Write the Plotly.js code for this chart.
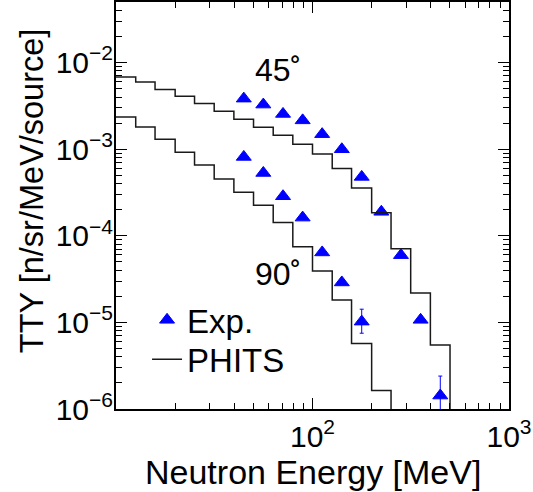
<!DOCTYPE html>
<html>
<head>
<meta charset="utf-8">
<script src="https://cdn.plot.ly/plotly-3.0.1.min.js"></script>
<style>html,body{margin:0;padding:0;background:#fff;}#chart{width:533px;height:492px;}</style>
</head>
<body>
<div id="chart"></div>
<script>
// Bin edges of the PHITS histograms [MeV]
var binEdges = [10, 12.6, 15.8, 20, 25.1, 31.6, 39.8, 50.1, 63.1, 79.4, 100, 126, 158, 200, 251, 316, 398, 501, 631];
// PHITS 45 deg (value for each bin starting at binEdges[i])
var phits45 = [6.81e-3, 5.96e-3, 4.87e-3, 4.07e-3, 3.36e-3, 2.74e-3, 2.21e-3, 1.79e-3, 1.45e-3, 1.14e-3,
               8.81e-4, 5.97e-4, 3.57e-4, 1.84e-4, 7.06e-5, 2.19e-5, 5.47e-6, 3e-7, 3e-7];
// PHITS 90 deg
var phits90 = [2.35e-3, 1.80e-3, 1.30e-3, 9.21e-4, 6.57e-4, 4.53e-4, 3.18e-4, 2.25e-4, 1.42e-4, 7.45e-5,
               3.91e-5, 1.81e-5, 5.72e-6, 1.63e-6, 3e-7, 3e-7, 3e-7, 3e-7, 3e-7];
// Experimental energies [MeV]
var expE = [44.7, 56.2, 70.8, 89.1, 112, 141, 178, 224, 282, 355, 447];
// Experimental 45 deg
var exp45 = [3.83e-3, 3.27e-3, 2.55e-3, 2.15e-3, 1.49e-3, 9.97e-4, 4.78e-4, 1.89e-4, 5.97e-5, 1.07e-5, 1.43e-6];
var exp45ErrPlus = [0, 0, 0, 0, 0, 0, 0, 0, 0, 0, 0.97e-6];
var exp45ErrMinus = [0, 0, 0, 0, 0, 0, 0, 0, 0, 0, 0.6e-6];
// Experimental 90 deg
var expE90 = [44.7, 56.2, 70.8, 89.1, 112, 141, 178];
var exp90 = [8.13e-4, 5.31e-4, 2.86e-4, 1.62e-4, 6.42e-5, 2.89e-5, 1.02e-5];
var exp90ErrPlus = [0, 0, 0, 0, 0, 0, 0.40e-5];
var exp90ErrMinus = [0, 0, 0, 0, 0, 0, 0.27e-5];
// Axis ticks
var xTickVals = [10, 100, 1000];
var xTickText = [' ', '10<sup>2</sup>', '10<sup>3</sup>'];
var yTickVals = [1e-6, 1e-5, 1e-4, 1e-3, 1e-2];
var yTickText = ['10<sup>\u22126</sup>', '10<sup>\u22125</sup>', '10<sup>\u22124</sup>', '10<sup>\u22123</sup>', '10<sup>\u22122</sup>'];
// Angle labels
var angleLabels = ['45\u02da', '90\u02da'];
var angleLabelE = [49.8, 49.8];
var angleLabelY = [8.13e-3, 3.66e-5];

var FONT = 'Liberation Sans, Arial, Helvetica, sans-serif';
var blue = '#0000ff';
var lineCol = '#1a1a1a';

var traces = [
  {x: expE, y: exp45, type: 'scatter', mode: 'markers', name: 'Exp.', legend: 'legend',
   marker: {symbol: 'triangle-up', size: 13, color: blue, line: {width: 1, color: blue}},
   error_y: {type: 'data', symmetric: false, array: exp45ErrPlus, arrayminus: exp45ErrMinus, color: blue, thickness: 1, width: 2}},
  {x: expE90, y: exp90, type: 'scatter', mode: 'markers', name: 'Exp.', showlegend: false,
   marker: {symbol: 'triangle-up', size: 13, color: blue, line: {width: 1, color: blue}},
   error_y: {type: 'data', symmetric: false, array: exp90ErrPlus, arrayminus: exp90ErrMinus, color: blue, thickness: 1, width: 2}},
  {x: binEdges, y: phits45, type: 'scatter', mode: 'lines', name: 'PHITS', legend: 'legend2',
   line: {shape: 'hv', color: lineCol, width: 1.5}},
  {x: binEdges, y: phits90, type: 'scatter', mode: 'lines', name: 'PHITS', showlegend: false,
   line: {shape: 'hv', color: lineCol, width: 1.5}}
];

var axisCommon = {
  type: 'log', showgrid: false, zeroline: false,
  showline: true, linecolor: '#000', linewidth: 2, mirror: 'allticks',
  ticks: 'inside', ticklen: 11, tickwidth: 1, tickcolor: '#000',
  tickmode: 'array',
  tickfont: {family: FONT, size: 30, color: '#000'},
  minor: {ticks: 'inside', ticklen: 6, tickwidth: 1, tickcolor: '#000', tickmode: 'linear', dtick: 'D1', showgrid: false}
};

var legendCommon = {xanchor: 'left', yanchor: 'middle', bgcolor: 'rgba(0,0,0,0)', borderwidth: 0,
                    font: {family: FONT, size: 33, color: '#000'}};

var annotations = [
  {xref: 'paper', yref: 'paper', x: 0.934, y: -0.155, xanchor: 'right', yanchor: 'middle', showarrow: false,
   text: 'Neutron Energy [MeV]', font: {family: FONT, size: 34, color: '#000'}},
  {xref: 'paper', yref: 'paper', x: -0.213, y: 0.536, xanchor: 'center', yanchor: 'middle', showarrow: false,
   textangle: -90, text: 'TTY [n/sr/MeV/source]', font: {family: FONT, size: 32.5, color: '#000'}}
];
for (var i = 0; i < angleLabels.length; i++) {
  annotations.push({xref: 'x', yref: 'y', x: Math.log10(angleLabelE[i]), y: Math.log10(angleLabelY[i]),
    xanchor: 'left', yanchor: 'middle', showarrow: false, text: angleLabels[i],
    font: {family: FONT, size: 32, color: '#000'}});
}

var layout = {
  width: 533, height: 492,
  margin: {l: 116, r: 24, t: 2, b: 83},
  paper_bgcolor: '#fff', plot_bgcolor: '#fff',
  font: {family: FONT, color: '#000'},
  showlegend: true,
  legend: Object.assign({}, legendCommon, {x: 0.079, y: 0.219}),
  legend2: Object.assign({}, legendCommon, {x: 0.079, y: 0.122}),
  xaxis: Object.assign({}, axisCommon, {range: [1, 3], tickvals: xTickVals, ticktext: xTickText}),
  yaxis: Object.assign({}, axisCommon, {range: [-6, Math.log10(0.05)], tickvals: yTickVals, ticktext: yTickText, ticklabelstandoff: -5}),
  annotations: annotations
};

Plotly.newPlot('chart', traces, layout, {displayModeBar: false, staticPlot: true});
</script>
</body>
</html>
